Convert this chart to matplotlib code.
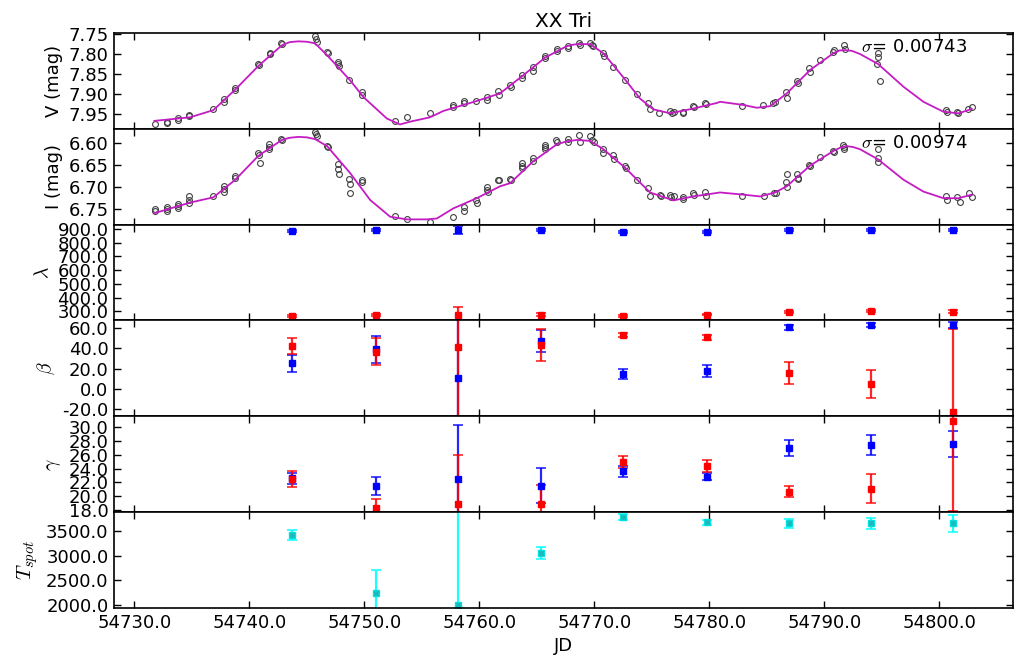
import matplotlib
matplotlib.use("Agg")
import matplotlib.pyplot as plt
from matplotlib.ticker import FormatStrFormatter, MultipleLocator

plt.rcParams['font.family'] = ['DejaVu Sans']
plt.rcParams['mathtext.fontset'] = 'cm'
plt.rcParams['font.size'] = 13

# ---- V band photometry ----
v_jd = [54731.80, 54732.82, 54732.82, 54733.77, 54733.77, 54734.78, 54734.78, 54736.87,
        54737.80, 54737.80, 54738.78, 54738.78, 54740.78, 54740.87, 54741.76, 54741.83,
        54742.76, 54742.82, 54745.71, 54745.77, 54745.86, 54746.76, 54746.82, 54747.69,
        54747.74, 54747.80, 54748.70, 54749.77, 54749.77, 54752.70, 54753.69,
        54755.71, 54757.69, 54757.69, 54758.70, 54758.70, 54759.71, 54760.70, 54760.70,
        54761.65, 54761.74, 54762.67, 54762.73, 54763.71, 54763.71, 54764.70, 54764.70,
        54765.71, 54765.71, 54766.73, 54766.73, 54767.74, 54767.74, 54768.70, 54768.76,
        54769.63, 54769.77, 54769.91, 54770.73, 54770.84, 54771.65, 54772.67, 54773.69,
        54774.64, 54774.84, 54775.65, 54776.58, 54776.73, 54776.96, 54777.69, 54777.74,
        54778.61, 54778.67, 54779.63, 54779.69,
        54782.87, 54784.70, 54785.57, 54785.71, 54786.67, 54786.73, 54787.65, 54787.71,
        54788.70, 54788.76, 54789.63, 54790.73, 54790.84, 54791.71, 54791.80, 54794.64,
        54794.67, 54794.61, 54794.84, 54800.58, 54800.70, 54801.57, 54801.66, 54802.52,
        54802.82]
v_mag = [7.977, 7.970, 7.974, 7.962, 7.966, 7.952, 7.956, 7.937,
         7.914, 7.920, 7.886, 7.891, 7.825, 7.828, 7.798, 7.801,
         7.771, 7.775, 7.755, 7.761, 7.769, 7.794, 7.798, 7.820,
         7.826, 7.830, 7.866, 7.895, 7.903, 7.968, 7.958,
         7.947, 7.928, 7.933, 7.918, 7.923, 7.919, 7.909, 7.916,
         7.892, 7.903, 7.878, 7.884, 7.853, 7.861, 7.832, 7.842,
         7.805, 7.811, 7.786, 7.792, 7.779, 7.784, 7.772, 7.778,
         7.771, 7.776, 7.779, 7.798, 7.805, 7.832, 7.866, 7.901,
         7.923, 7.937, 7.947, 7.943, 7.949, 7.945, 7.945, 7.949,
         7.931, 7.934, 7.923, 7.926,
         7.931, 7.928, 7.924, 7.920, 7.895, 7.910, 7.867, 7.874,
         7.836, 7.845, 7.814, 7.794, 7.790, 7.778, 7.786, 7.798,
         7.808, 7.825, 7.868, 7.941, 7.945, 7.945, 7.949, 7.937,
         7.934]

v_model_jd = [54731.74, 54734.84, 54736.87, 54738.78, 54740.78, 54742.82, 54743.50,
              54744.26, 54745.00, 54745.71, 54746.76, 54748.76, 54749.91, 54751.95,
              54753.10, 54753.97, 54755.71, 54756.87, 54759.77, 54761.79, 54763.83,
              54765.71, 54767.60, 54768.20, 54768.70, 54769.63, 54770.78, 54771.65,
              54772.67, 54773.97, 54775.13, 54776.58, 54778.61, 54780.64, 54780.93,
              54782.96, 54784.12, 54785.28, 54786.73, 54788.76, 54790.78, 54791.30,
              54791.80, 54792.40, 54793.11, 54794.67, 54796.87, 54798.61, 54800.35,
              54801.66, 54802.82]
v_model = [7.968, 7.959, 7.941, 7.889, 7.830, 7.778, 7.770,
           7.768, 7.769, 7.773, 7.803, 7.866, 7.908, 7.962,
           7.977, 7.970, 7.959, 7.943, 7.918, 7.899, 7.853,
           7.809, 7.780, 7.776, 7.775, 7.775, 7.798, 7.828,
           7.864, 7.912, 7.939, 7.949, 7.937, 7.923, 7.920,
           7.928, 7.935, 7.931, 7.899, 7.840, 7.798, 7.791,
           7.790, 7.792, 7.800, 7.825, 7.882, 7.920, 7.945,
           7.949, 7.938]

# ---- I band photometry ----
i_jd = [54731.77, 54731.77, 54732.82, 54732.82, 54732.82, 54733.77, 54733.77, 54733.77,
        54734.78, 54734.78, 54734.78, 54736.87, 54737.80, 54737.80, 54737.80, 54738.78,
        54738.78, 54740.78, 54740.87, 54740.93, 54741.74, 54741.74, 54741.74, 54742.76,
        54742.82, 54745.71, 54745.77, 54745.86, 54746.73, 54746.82, 54747.69, 54747.74,
        54747.80, 54748.70, 54748.76, 54748.76, 54749.77, 54749.77, 54752.70, 54753.69,
        54755.71, 54757.69, 54758.70, 54758.70, 54759.71, 54759.77, 54760.70, 54760.70,
        54760.73, 54761.65, 54761.74, 54762.67, 54762.73, 54763.71, 54763.71, 54763.71,
        54764.70, 54764.70, 54765.71, 54765.71, 54765.71, 54766.64, 54766.73, 54767.74,
        54767.74, 54768.70, 54768.76, 54769.63, 54769.77, 54769.97, 54770.73, 54770.78,
        54771.65, 54771.71, 54772.67, 54772.73, 54773.69, 54774.64, 54774.84, 54775.71,
        54775.77, 54776.58, 54776.67, 54776.96, 54777.69, 54777.74, 54778.61, 54778.67,
        54779.63, 54779.69,
        54782.87, 54784.76, 54785.65, 54785.77, 54786.67, 54786.73, 54786.78, 54787.65,
        54787.68, 54787.74, 54788.70, 54788.76, 54789.63, 54790.78, 54790.87, 54791.65,
        54791.71, 54791.71, 54794.70, 54794.70, 54794.70, 54800.58, 54800.70, 54801.57,
        54801.80, 54802.61, 54802.82]
i_mag = [6.751, 6.754, 6.746, 6.751, 6.755, 6.739, 6.743, 6.749,
         6.722, 6.730, 6.736, 6.722, 6.699, 6.705, 6.712, 6.675,
         6.680, 6.623, 6.627, 6.646, 6.604, 6.609, 6.614, 6.591,
         6.594, 6.577, 6.581, 6.586, 6.608, 6.611, 6.649, 6.659,
         6.670, 6.682, 6.693, 6.714, 6.685, 6.690, 6.766, 6.774,
         6.779, 6.769, 6.745, 6.756, 6.730, 6.737, 6.701, 6.707,
         6.711, 6.684, 6.685, 6.682, 6.685, 6.646, 6.652, 6.657,
         6.634, 6.642, 6.606, 6.611, 6.615, 6.594, 6.598, 6.591,
         6.598, 6.583, 6.598, 6.585, 6.595, 6.598, 6.615, 6.623,
         6.627, 6.636, 6.653, 6.658, 6.684, 6.704, 6.722, 6.718,
         6.722, 6.718, 6.724, 6.722, 6.724, 6.728, 6.714, 6.718,
         6.713, 6.722,
         6.720, 6.720, 6.714, 6.714, 6.690, 6.701, 6.672, 6.670,
         6.680, 6.682, 6.651, 6.653, 6.633, 6.619, 6.622, 6.605,
         6.609, 6.614, 6.615, 6.634, 6.644, 6.720, 6.731, 6.724,
         6.734, 6.714, 6.724]

i_model_jd = [54731.74, 54734.84, 54736.87, 54738.78, 54740.78, 54742.82, 54743.50,
              54744.26, 54745.00, 54745.71, 54746.76, 54748.76, 54750.50, 54752.24,
              54753.69, 54755.43, 54756.30, 54757.74, 54759.77, 54761.80, 54762.67,
              54764.70, 54766.73, 54767.60, 54768.47, 54769.63, 54770.78, 54772.67,
              54774.84, 54776.87, 54778.61, 54780.93, 54782.96, 54784.41, 54785.71,
              54786.73, 54788.76, 54790.78, 54791.40, 54791.94, 54792.50, 54793.10,
              54794.67, 54796.87, 54798.61, 54800.35, 54801.66, 54802.82]
i_model = [6.760, 6.736, 6.724, 6.684, 6.630, 6.594, 6.589,
           6.587, 6.588, 6.592, 6.608, 6.669, 6.730, 6.768,
           6.774, 6.774, 6.772, 6.749, 6.726, 6.699, 6.692,
           6.642, 6.604, 6.597, 6.594, 6.596, 6.615, 6.657,
           6.713, 6.731, 6.722, 6.713, 6.718, 6.722, 6.713,
           6.699, 6.652, 6.619, 6.611, 6.608, 6.610, 6.615,
           6.638, 6.684, 6.711, 6.726, 6.726, 6.718]

sigma_v = 0.00743
sigma_i = 0.00974

# ---- spot parameters (spot 1 blue, spot 2 red) ----
spot_jd = [54743.74, 54751.02, 54758.17, 54765.34, 54772.50,
           54779.77, 54786.93, 54794.09, 54801.22]

lam_1 = [883, 890, 893, 893, 876, 876, 890, 893, 893]
lam_1_err = [6, 6, 30, 6, 6, 6, 6, 6, 6]
lam_2 = [267, 276, 276, 276, 267, 276, 293, 300, 298]
lam_2_err = [7, 7, 53, 9, 6, 6, 7, 8, 12]

beta_1 = [25.0, 38.7, 11.0, 46.9, 14.5, 17.5, 60.6, 63.2, 63.2]
beta_1_err = [8.5, 13.0, 100.0, 11.0, 5.0, 5.7, 2.5, 2.0, 3.0]
beta_2 = [42.0, 36.5, 41.0, 43.3, 52.7, 50.5, 15.5, 5.0, -22.7]
beta_2_err = [7.5, 13.0, 100.0, 16.0, 2.0, 2.0, 11.0, 14.0, 82.0]

gamma_1 = [22.6, 21.5, 22.5, 21.54, 23.58, 22.85, 27.0, 27.43, 27.58]
gamma_1_err = [0.8, 1.25, 7.8, 2.5, 0.75, 0.5, 1.2, 1.4, 1.9]
gamma_2 = [22.5, 18.25, 18.87, 18.87, 24.95, 24.41, 20.67, 21.1, 30.87]
gamma_2_err = [1.1, 1.3, 7.1, 2.8, 0.85, 0.85, 0.8, 2.1, 13.0]

t_spot = [3413, 2243, 2007, 3054, 3784, 3670, 3650, 3650, 3650]
t_spot_err = [100, 460, 2000, 125, 55, 55, 90, 110, 170]

# ---- figure ----
fig = plt.figure(figsize=(10.19, 6.56), dpi=100)
axes = fig.subplots(6, 1, sharex=True,
                    gridspec_kw=dict(hspace=0, left=0.1119, right=0.9941,
                                     top=0.9497, bottom=0.0732))
ax_v, ax_i, ax_l, ax_b, ax_g, ax_t = axes

circ = dict(ls='none', marker='o', ms=4.2, mfc='none', mec='0.25', mew=0.8)
model_color = '#c51bc5'

ax_v.plot(v_jd, v_mag, **circ)
ax_v.plot(v_model_jd, v_model, color=model_color, lw=1.3)
ax_v.set_ylim(7.988, 7.747)
ax_v.set_ylabel('V (mag)')
ax_v.yaxis.set_major_locator(MultipleLocator(0.05))
ax_v.yaxis.set_major_formatter(FormatStrFormatter('%.2f'))
ax_v.text(54793.2, 7.783, r'$\sigma$= %.5f' % sigma_v, va='center')
ax_v.set_title('XX Tri', fontsize=14.5, pad=4)

ax_i.plot(i_jd, i_mag, **circ)
ax_i.plot(i_model_jd, i_model, color=model_color, lw=1.3)
ax_i.set_ylim(6.786, 6.5687)
ax_i.set_ylabel('I (mag)')
ax_i.yaxis.set_major_locator(MultipleLocator(0.05))
ax_i.yaxis.set_major_formatter(FormatStrFormatter('%.2f'))
ax_i.text(54793.2, 6.601, r'$\sigma$= %.5f' % sigma_i, va='center')

eb = dict(fmt='s', ms=4.4, capsize=3.5, elinewidth=1.6, capthick=1.2)


def pair(ax, y1, e1, y2, e2):
    ax.errorbar(spot_jd, y1, yerr=e1, color='blue', ecolor=(0.0, 0.0, 1.0, 0.85), **eb)
    ax.errorbar(spot_jd, y2, yerr=e2, color='red', ecolor=(1.0, 0.0, 0.0, 0.85), **eb)


pair(ax_l, lam_1, lam_1_err, lam_2, lam_2_err)
ax_l.set_ylim(233, 931)
ax_l.yaxis.set_major_locator(MultipleLocator(100))
ax_l.set_ylabel(r'$\lambda$', fontsize=14)

pair(ax_b, beta_1, beta_1_err, beta_2, beta_2_err)
ax_b.set_ylim(-27, 67.2)
ax_b.yaxis.set_major_locator(MultipleLocator(20))
ax_b.set_ylabel(r'$\beta$', fontsize=14)

pair(ax_g, gamma_1, gamma_1_err, gamma_2, gamma_2_err)
ax_g.set_ylim(17.7, 31.56)
ax_g.yaxis.set_major_locator(MultipleLocator(2))
ax_g.set_ylabel(r'$\gamma$', fontsize=14)

ax_t.errorbar(spot_jd, t_spot, yerr=t_spot_err, fmt='s', ms=4.0, color='#19b3b3',
              mfc='#1fb8b8', mec='#00e0e0', ecolor=(0.0, 1.0, 1.0, 0.9),
              capsize=3.5, elinewidth=1.6, capthick=1.2)
ax_t.set_ylim(1939, 3879)
ax_t.yaxis.set_major_locator(MultipleLocator(500))
ax_t.set_ylabel(r'$T_{spot}$', fontsize=15)
ax_t.set_xlabel('JD')

for ax in (ax_l, ax_b, ax_g, ax_t):
    ax.yaxis.set_major_formatter(FormatStrFormatter('%.1f'))

ax_t.set_xlim(54728.23, 54806.4)
ax_t.xaxis.set_major_locator(MultipleLocator(10))
ax_t.xaxis.set_major_formatter(FormatStrFormatter('%.1f'))

for ax in axes:
    ax.tick_params(direction='in', top=True, right=True, length=5, width=1,
                   labelsize=13, pad=4)
    for s in ax.spines.values():
        s.set_linewidth(1.2)

fig.savefig('out.png', dpi=100)
